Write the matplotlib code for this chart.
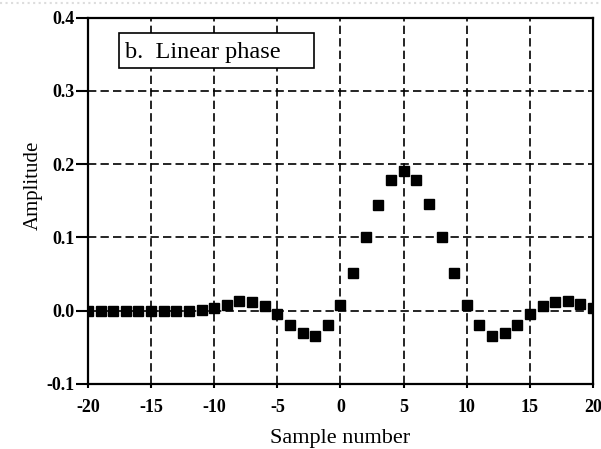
import numpy as np
import matplotlib.pyplot as plt
from matplotlib.patches import Rectangle
from matplotlib.lines import Line2D

# sample index and amplitude
samples = np.arange(-20, 21)
amplitude = [0.0, 0.0, 0.0, 0.0, 0.0, 0.0, 0.0, 0.0, 0.0, 0.001,
             0.004, 0.008, 0.013, 0.012, 0.006, -0.004, -0.02, -0.031, -0.034, -0.02,
             0.008, 0.052, 0.1, 0.144, 0.178, 0.19, 0.178, 0.145, 0.1, 0.052,
             0.008, -0.02, -0.034, -0.031, -0.02, -0.005, 0.006, 0.012, 0.013, 0.009,
             0.003]
xticks = [-20, -15, -10, -5, 0, 5, 10, 15, 20]
yticks = [-0.1, 0.0, 0.1, 0.2, 0.3, 0.4]
title = "b.  Linear phase"

plt.rcParams['font.family'] = 'serif'
plt.rcParams['font.serif'] = ['Liberation Serif', 'DejaVu Serif']

fig = plt.figure(figsize=(6.01, 4.49), dpi=100)
ax = fig.add_axes([0.1464, 0.1448, 0.8403, 0.8162])

ax.plot(samples, amplitude, 's', color='black', markersize=6.8, zorder=3)

ax.set_xlim(-20, 20)
ax.set_ylim(-0.1, 0.4)
ax.set_xticks(xticks)
ax.set_yticks(yticks)
ax.set_xticklabels([str(t) for t in xticks])
ax.set_yticklabels(['%.1f' % t for t in yticks])
ax.tick_params(axis='x', direction='out', length=3, width=1.5, labelsize=13, pad=8)
ax.tick_params(axis='y', direction='out', length=8.5, width=1.5, labelsize=13, pad=1)
for lab in ax.get_xticklabels() + ax.get_yticklabels():
    lab.set_fontweight('bold')
ax.grid(True, color='black', linestyle=(0, (5, 2.5)), linewidth=1.2)
for sp in ax.spines.values():
    sp.set_linewidth(1.6)

ax.set_xlabel('Sample number', fontsize=16, labelpad=9)
ax.set_ylabel('Amplitude', fontsize=15)
ax.yaxis.set_label_coords(-0.089, 0.543)

ax.add_patch(Rectangle((0.0614, 0.862), 0.386, 0.0957, transform=ax.transAxes,
                       facecolor='white', edgecolor='black', linewidth=1.2, zorder=4))
ax.text(0.074, 0.905, title, transform=ax.transAxes, fontsize=17.5,
        va='center', ha='left', zorder=5)

# faint dotted border along the top of the picture
fig.add_artist(Line2D([0, 1], [0.993, 0.993], transform=fig.transFigure,
                      color='#dddddd', linestyle=':', linewidth=1.5))

fig.savefig('out.png', dpi=100)
